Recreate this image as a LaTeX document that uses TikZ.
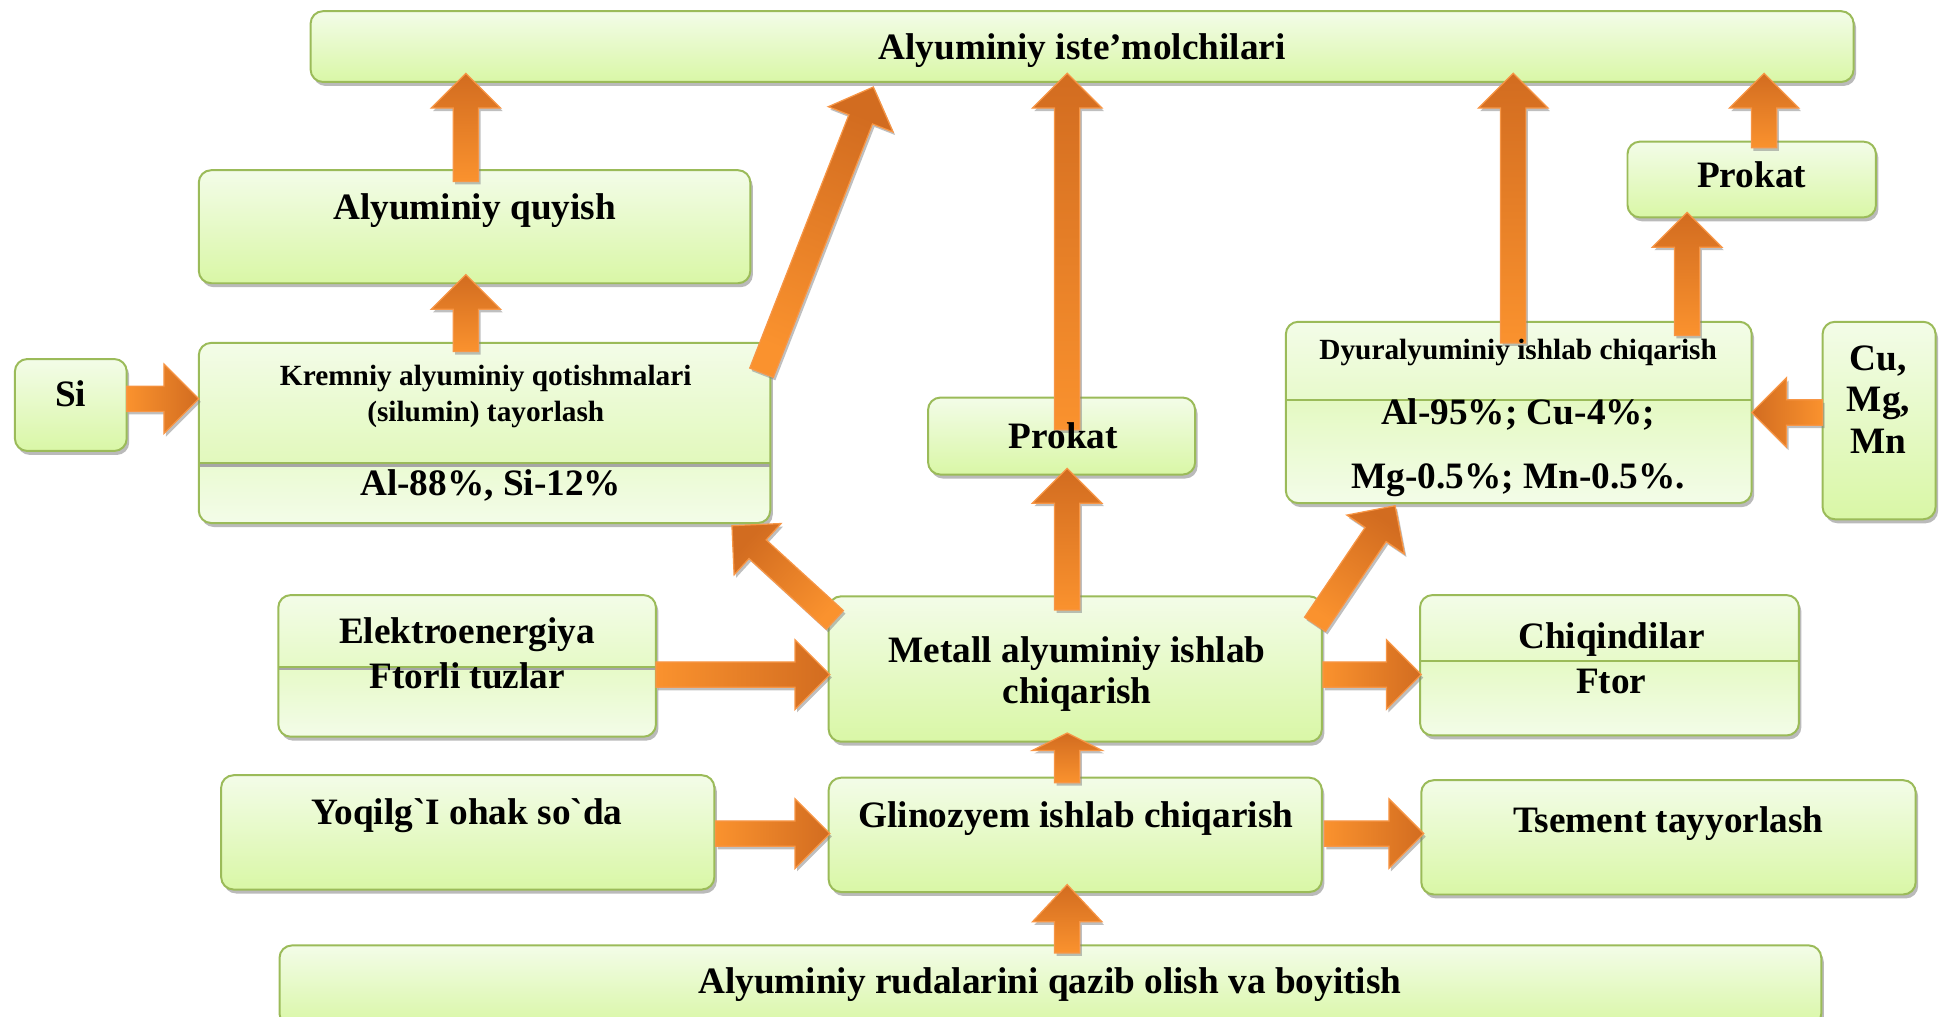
\documentclass[tikz,border=0pt]{standalone}
\usepackage{fontspec}
\setmainfont{Liberation Serif}
\usetikzlibrary{calc,fit,shadows}
\definecolor{boxtop}{RGB}{243,252,232}
\definecolor{boxbot}{RGB}{217,247,166}
\definecolor{boxline}{RGB}{155,187,89}
\definecolor{arrlight}{RGB}{250,146,46}
\definecolor{arrdark}{RGB}{210,108,32}
\definecolor{arrline}{RGB}{247,150,70}
\tikzset{
  box/.style={draw=boxline, line width=0.8pt, rounded corners=5pt,
    top color=boxtop, bottom color=boxbot, inner sep=0pt, outer sep=0pt,
    drop shadow={shadow xshift=1pt, shadow yshift=-1.6pt, fill=black!45, opacity=0.6}},
  lowpart/.style 2 args={path picture={
    \shade[sharp corners, top color=boxbot, bottom color=boxtop]
      ([yshift=-#1]path picture bounding box.north west) rectangle (path picture bounding box.south east);
    \fill[sharp corners, black!35]
      ([yshift=-#1]path picture bounding box.north west) rectangle ([yshift=-#1-#2]path picture bounding box.north east);
    \draw[sharp corners, boxline, line width=0.8pt]
      ([yshift=-#1]path picture bounding box.north west) -- ([yshift=-#1]path picture bounding box.north east);}},
  blockarrow/.style={draw=arrline, line width=0.5pt, line join=miter,
    top color=arrdark, bottom color=arrlight,
    drop shadow={shadow xshift=0.8pt, shadow yshift=-1.2pt, fill=black!50, opacity=0.5}},
  big/.style={font=\fontsize{15}{18}\selectfont\bfseries, anchor=base, inner sep=0pt},
  small/.style={font=\fontsize{11.8}{14}\selectfont\bfseries, anchor=base, inner sep=0pt}
}
\newcommand\barrowdraw[3][14]{%
  \path let \p1=#2, \p2=#3 in \pgfextra{%
    \pgfmathsetmacro\baang{atan2((\y2)-(\y1),(\x2)-(\x1))}%
    \pgfmathsetmacro\balen{veclen((\x2)-(\x1),(\y2)-(\y1))}%
    \xdef\bax{\x1}\xdef\bay{\y1}\xdef\baA{\baang}\xdef\baL{\balen}%
  };
  \pgfmathsetmacro\baS{\baA-90}%
  \pgfmathsetmacro\baB{\baL-#1}%
  \path[blockarrow, shading angle=\baS, shift={(\bax,\bay)}, rotate=\baA]
    (0pt,-5.1pt) -- (\baB pt,-5.1pt) -- (\baB pt,-14pt) -- (\baL pt,0pt)
    -- (\baB pt,14pt) -- (\baB pt,5.1pt) -- (0pt,5.1pt) -- cycle;
}
\begin{document}
\begin{tikzpicture}[x=0.5pt, y=-0.5pt]
\useasboundingbox (0,0) rectangle (1568,818);
\coordinate (colM) at (859,0);
% boxes
\node[box, fit={(250,9) (1492,66)}] (top) {};
\node[box, fit={(160,137) (604,228)}] (quyish) {};
\node[box, lowpart={48.5pt}{1.4pt}, fit={(160,276) (620,421)}] (kremniy) {};
\node[box, fit={(12,289) (102,363)}] (si) {};
\node[box, fit={(747,320) (962,382)}] (prokatM) {};
\node[box, lowpart={31.5pt}{0pt}, fit={(1035,259) (1410,405)}] (dyural) {};
\node[box, fit={(1467,259) (1558,418)}] (cumn) {};
\node[box, fit={(1310,114) (1510,175)}] (prokatR) {};
\node[box, lowpart={29pt}{1.2pt}, fit={(224,479) (528,593)}] (elektro) {};
\node[box, fit={(667,480) (1064,597)}] (metall) {};
\node[box, lowpart={26.5pt}{0pt}, fit={(1143,479) (1448,592)}] (chiq) {};
\node[box, fit={(178,624) (575,716)}] (yoq) {};
\node[box, fit={(667,626) (1064,718)}] (glin) {};
\node[box, fit={(1144,628) (1542,720)}] (tsem) {};
\node[box, fit={(225,761) (1466,826)}] (bottom) {};
% arrows
\barrowdraw{($(quyish.north)+(-7,9)$)}{($(quyish.north |- top.south)+(-7,-7)$)}
\barrowdraw{($(kremniy.north)+(-15,7)$)}{($(quyish.south)+(-7,-7)$)}
\barrowdraw{($(kremniy.north east)+(-7,24)$)}{($(top.south west)+(453,4)$)}
\barrowdraw{($(colM |- metall.north)+(0,11)$)}{($(colM |- prokatM.south)+(0,-5)$)}
\barrowdraw{($(colM |- prokatM.north)+(0,26)$)}{($(colM |- top.south)+(0,-7)$)}
\barrowdraw{($(metall.north west)+(5,19)$)}{($(kremniy.south east)+(-31,2)$)}
\barrowdraw{($(metall.north east)+(-5.5,22.5)$)}{($(dyural.south west)+(88,2)$)}
\barrowdraw{($(dyural.north)+(-4.5,17)$)}{($(dyural.north |- top.south)+(-4.5,-7)$)}
\barrowdraw{($(dyural.north east)+(-52,11)$)}{($(prokatR.south)+(-52,-4)$)}
\barrowdraw{($(prokatR.north)+(10,5)$)}{($(prokatR.north |- top.south)+(10,-7)$)}
\barrowdraw{(cumn.west |- dyural.east)}{(dyural.east)}
\barrowdraw{($(si.east)+(0,-5)$)}{($(kremniy.west |- si.east)+(0,-5)$)}
\barrowdraw{($(elektro.east)+(0,7)$)}{($(metall.west |- elektro.east)+(1,7)$)}
\barrowdraw{($(metall.east)+(1,4.5)$)}{($(chiq.west |- metall.east)+(1,4.5)$)}
\barrowdraw[7]{($(colM |- glin.north)+(0,4)$)}{($(colM |- metall.south)+(0,-7)$)}
\barrowdraw{($(yoq.east)+(1,1)$)}{($(glin.west |- yoq.east)+(1,1)$)}
\barrowdraw{($(glin.east)+(2,-1)$)}{($(tsem.west |- glin.east)+(2,-1)$)}
\barrowdraw[15]{($(colM |- bottom.north)+(0,6)$)}{($(colM |- glin.south)+(0,-6)$)}
% texts
\node[big] (t-top) at (871,48) {Alyuminiy iste’molchilari};
\node[big] (t-quyish) at (382,177) {Alyuminiy quyish};
\node[small] (t-kr1) at (391,310) {Kremniy alyuminiy qotishmalari};
\node[small] (t-kr2) at (391,339) {(silumin) tayorlash};
\node[big] (t-kr3) at (395,399) {Al-88\%, Si-12\%};
\node[big] (t-si) at (57,327) {Si};
\node[big] (t-prM) at (856,361) {Prokat};
\node[big] (t-prR) at (1410,151) {Prokat};
\node[small] (t-dy1) at (1222,289) {Dyuralyuminiy ishlab chiqarish};
\node[big] (t-dy2) at (1222,342) {Al-95\%; Cu-4\%;};
\node[big] (t-dy3) at (1222,393) {Mg-0.5\%; Mn-0.5\%.};
\node[big] (t-cu1) at (1512,298) {Cu,};
\node[big] (t-cu2) at (1512,331) {Mg,};
\node[big] (t-cu3) at (1512,365) {Mn};
\node[big] (t-el1) at (376,518) {Elektroenergiya};
\node[big] (t-el2) at (376,554) {Ftorli tuzlar};
\node[big] (t-me1) at (867,533) {Metall alyuminiy ishlab};
\node[big] (t-me2) at (867,566) {chiqarish};
\node[big] (t-ch1) at (1297,522) {Chiqindilar};
\node[big] (t-ch2) at (1297,558) {Ftor};
\node[big] (t-yoq) at (376,664) {\addfontfeatures{Ligatures=TeXOff}Yoqilg`I ohak so`da};
\node[big] (t-glin) at (866,666) {Glinozyem ishlab chiqarish};
\node[big] (t-tsem) at (1343,670) {Tsement tayyorlash};
\node[big] (t-bot) at (845,800) {Alyuminiy rudalarini qazib olish va boyitish};
\end{tikzpicture}
\end{document}
